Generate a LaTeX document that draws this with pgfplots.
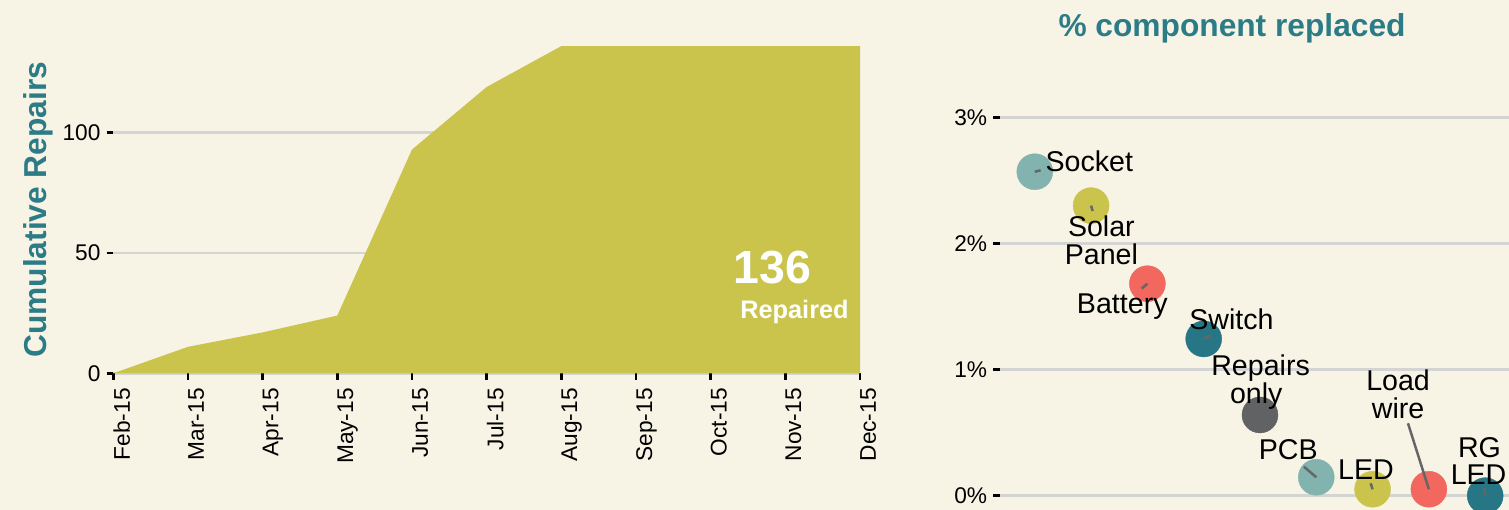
\documentclass[border=0pt]{standalone}
\usepackage{fontspec}
\setmainfont{Liberation Sans}
\usepackage{pgfplots}
\pgfplotsset{compat=1.18}
\definecolor{bg}{HTML}{F7F4E6}
\definecolor{olive}{HTML}{CBC44C}
\definecolor{myteal}{HTML}{2B7C87}
\definecolor{ltteal}{HTML}{82B3AE}
\definecolor{salmon}{HTML}{F2675E}
\definecolor{dkteal}{HTML}{267685}
\definecolor{dkgray}{HTML}{616264}
\definecolor{gridc}{HTML}{D4D4D4}
\definecolor{leader}{HTML}{666666}
\begin{document}
\begin{tikzpicture}[x=1pt,y=1pt]
\clip (0,0) rectangle (1509,510);
\fill[bg] (0,0) rectangle (1509,510);

\begin{axis}[
  at={(113.3pt,136.7pt)}, anchor=south west,
  scale only axis, width=746.7pt, height=327.2pt,
  xmin=0, xmax=10, ymin=0, ymax=136,
  axis line style={draw=none},
  xtick={0,...,10},
  xticklabels={Feb-15,Mar-15,Apr-15,May-15,Jun-15,Jul-15,Aug-15,Sep-15,Oct-15,Nov-15,Dec-15},
  ytick={0,50,100},
  tick align=outside, xtick pos=left, ytick pos=left,
  major tick length=6.7pt,
  tick style={black, line width=2.5pt},
  ymajorgrids, grid style={gridc, line width=2.5pt},
  ticklabel style={font=\fontsize{22.7}{27}\selectfont},
  /pgf/number format/assume math mode=true,
  xticklabel style={rotate=90, anchor=north east, inner sep=0pt, xshift=-8pt},
  yticklabel style={inner sep=0pt, xshift=-6pt},
  ylabel={Cumulative Repairs},
  ylabel style={at={(axis description cs:-0.100,0.5)}, anchor=center, text=myteal, font=\bfseries\fontsize{31.7}{36}\selectfont},
  clip=false,
]
\addplot[fill=olive, draw=none] coordinates {(0,0) (1,11) (2,17) (3,24) (4,93) (5,119) (6,136) (7,136) (8,136) (9,136) (10,136)} \closedcycle;
\node[anchor=base, text=white, font=\bfseries\fontsize{46.5}{50}\selectfont] at (axis cs:8.828,37.4) {136};
\node[anchor=base, text=white, font=\bfseries\fontsize{25.3}{30}\selectfont] at (axis cs:9.123,22.86) {Repaired};
\end{axis}

\begin{axis}[
  at={(1000pt,-23.5pt)}, anchor=south west,
  scale only axis, width=569.6pt, height=453.96pt,
  xmin=0.382, xmax=10.5, ymin=-0.3, ymax=3.3,
  axis line style={draw=none},
  xtick=\empty,
  ytick={0,1,2,3}, yticklabels={0\%,1\%,2\%,3\%},
  tick align=outside, ytick pos=left,
  major tick length=6.7pt,
  tick style={black, line width=2.5pt},
  ymajorgrids, grid style={gridc, line width=2.5pt},
  ticklabel style={font=\fontsize{22.7}{27}\selectfont},
  yticklabel style={inner sep=0pt, xshift=-6pt},
  clip=false, clip marker paths=true,
]
\addplot[scatter, only marks, mark=*, mark size=18pt, point meta=explicit symbolic,
  scatter/classes={a={ltteal},b={olive},c={salmon},d={dkteal},e={dkgray}}]
  table[meta=c] {
x y c
1 2.569 a
2 2.300 b
3 1.681 c
4 1.243 d
5 0.640 e
6 0.146 a
7 0.051 b
8 0.051 c
9 0.000 d
};
\draw[leader, line width=2.5pt] (axis cs:1,2.569) -- (axis cs:1.103,2.580);
\draw[leader, line width=2.5pt] (axis cs:2,2.300) -- (axis cs:2.027,2.258);
\draw[leader, line width=2.5pt] (axis cs:3,1.681) -- (axis cs:2.897,1.642);
\draw[leader, line width=2.5pt] (axis cs:4,1.243) -- (axis cs:4.124,1.274);
\draw[leader, line width=2.5pt] (axis cs:6,0.146) -- (axis cs:5.78,0.23);
\draw[leader, line width=2.5pt] (axis cs:7,0.051) -- (axis cs:6.966,0.098);
\draw[leader, line width=2.5pt] (axis cs:8,0.051) -- (axis cs:7.629,0.574);
\draw[leader, line width=2.5pt] (axis cs:9,0.0) -- (axis cs:8.986,0.063);
\begin{scope}[every node/.style={anchor=base, font=\fontsize{28.6}{28.6}\selectfont}]
\node at (axis cs:1.968,2.569) {Socket};
\node at (axis cs:2.183,2.059) {Solar};
\node at (axis cs:2.183,1.835) {Panel};
\node at (axis cs:2.554,1.441) {Battery};
\node at (axis cs:4.494,1.320) {Switch};
\node at (axis cs:5.011,0.949) {Repairs};
\node at (axis cs:4.934,0.733) {only};
\node at (axis cs:5.503,0.283) {PCB};
\node at (axis cs:6.883,0.132) {LED};
\node at (axis cs:7.453,0.833) {Load};
\node at (axis cs:7.453,0.614) {wire};
\node at (axis cs:8.90,0.305) {RG};
\node at (axis cs:8.883,0.085) {LED};
\end{scope}
\end{axis}

\node[anchor=base, text=myteal, font=\bfseries\fontsize{31.7}{36}\selectfont] at (1232,473.5) {\% component replaced};
\end{tikzpicture}
\end{document}
